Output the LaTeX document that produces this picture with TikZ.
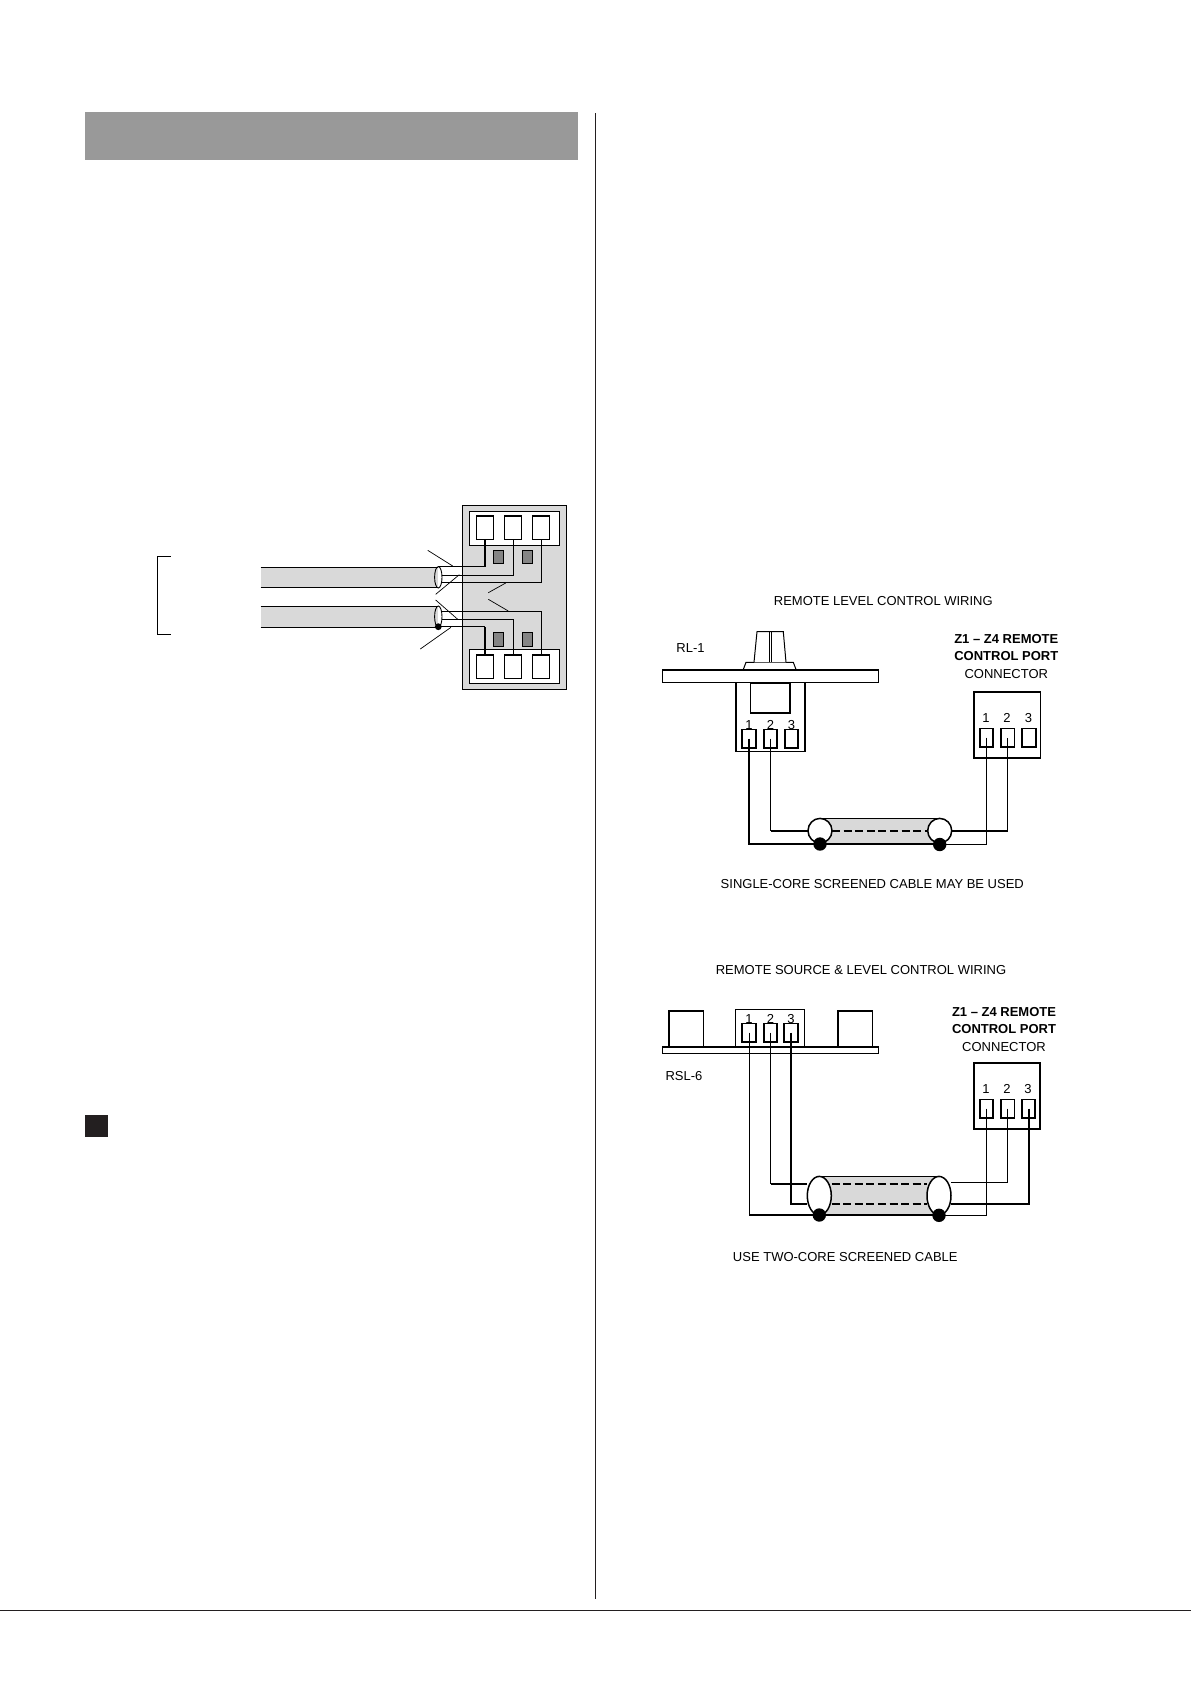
\documentclass[tikz,border=0pt]{standalone}
\usepackage{fontspec}
\setmainfont{Liberation Sans}
\usetikzlibrary{positioning,shapes.geometric}
\definecolor{bandgrey}{HTML}{999999}
\definecolor{cablegrey}{HTML}{D9D9D9}
\definecolor{studgrey}{HTML}{858585}
\definecolor{inkblack}{HTML}{231F20}

\begin{document}
\begin{tikzpicture}[
x=1pt,y=-1pt,
font=\fontsize{13}{17.3}\selectfont,
wire/.style={line width=1pt},
heavywire/.style={line width=2pt},
lightbox/.style={rectangle,draw,fill=white,inner sep=0pt,outer sep=0pt,line width=1.2pt},
heavybox/.style={lightbox,line width=1.6pt},
bigpin/.style={lightbox,minimum width=17.4pt,minimum height=23.7pt},
smallpin/.style={heavybox,minimum width=13.5pt,minimum height=18.7pt},
stud/.style={lightbox,fill=studgrey,line width=0.8pt,minimum width=10.5pt,minimum height=13.5pt},
pinlabel/.style={inner sep=0pt},
headlabel/.style={inner sep=0pt,align=center},
screen/.style={ellipse,draw,fill=white,inner sep=0pt,outer sep=0pt,line width=1.5pt,minimum width=24pt},
endcap/.style={ellipse,draw,inner sep=0pt,outer sep=0pt,line width=0.9pt,minimum width=7.4pt,minimum height=21.4pt},
drain/.style={circle,fill=black,inner sep=0pt,outer sep=0pt,minimum size=13.4pt},
core/.style={line width=2pt,dash pattern=on 8pt off 3.6pt},
thincore/.style={line width=1.2pt,dash pattern=on 8pt off 3.6pt}
]
    \useasboundingbox (0,0) rectangle (1191,1684);

    % Page furniture
    \fill [bandgrey] (85,112) rectangle (578,160);
    \fill [inkblack] (85,1115) rectangle (108,1137);
    \draw [line width=1.2pt,inkblack] (595.4,113) -- (595.4,1599);
    \draw [line width=1.3pt,inkblack] (0,1610.6) -- (1191,1610.6);

    % Terminal block
    \node [lightbox,fill=cablegrey,minimum width=104.4pt,minimum height=184pt] (block) at (514.5,597.3) {};
    \node [lightbox,minimum width=90.4pt,minimum height=33.6pt] (stripT) at (514.5,528.5) {};
    \node [lightbox,minimum width=90.4pt,minimum height=34pt] (stripB) at (514.5,666.3) {};
    \foreach \x/\n in {485/a,513/b,541/c} {
        \node [bigpin] (top\n) at (\x,527.9) {};
        \node [bigpin] (bot\n) at (\x,666.9) {};
    }
    \foreach \x/\n in {498.4/a,527.5/b} {
        \node [stud] (studT\n) at (\x,557) {};
        \node [stud] (studB\n) at (\x,639.3) {};
    }

    % Two cables
    \fill [cablegrey] (260.7,567.3) rectangle (438.3,587.3);
    \fill [cablegrey] (260.7,606.5) rectangle (438.3,627.3);
    \draw [line width=1.2pt] (260.7,567.3) -- (438.3,567.3);
    \draw [line width=1.2pt] (260.7,587.3) -- (438.3,587.3);
    \draw [line width=1.2pt] (260.7,606.5) -- (438.3,606.5);
    \draw [line width=1.2pt] (260.7,627.3) -- (438.3,627.3);
    \node [endcap] (capU) at (438.3,577.3) {};
    \node [endcap] (capD) at (438.3,616.7) {};
    \node [drain,minimum size=6.8pt] (dotD) at (438.3,626.7) {};
    \draw
        (442,575) coordinate (coreUb)
        (442,582) coordinate (coreUc)
        (442,611.5) coordinate (coreDc)
        (442,619.2) coordinate (coreDb);

    \draw [heavywire] (topa.south) -- (topa.south |- capU.north);
    \draw [line width=1.2pt] (topa.south |- capU.north) -- (capU.north);
    \draw [wire] (topb.south) |- (coreUb);
    \draw [wire] (topc.south) |- (coreUc);
    \draw [wire] (botc.north) |- (coreDc);
    \draw [wire] (botb.north) |- (coreDb);
    \draw [heavywire] (bota.north) -- (bota.north |- dotD.center);
    \draw [line width=1.2pt] (bota.north |- dotD.center) -- (dotD.center);

    % Leader lines and bracket
    \draw [line width=0.7pt] (427.7,550.3) -- (452.7,566);
    \draw [line width=0.7pt] (435.7,594.3) -- (459.3,574.7);
    \draw [line width=0.7pt] (488.3,592.7) -- (505.7,583);
    \draw [line width=0.7pt] (488.3,599.3) -- (508.3,611);
    \draw [line width=0.7pt] (435.7,600) -- (457.7,619.3);
    \draw [line width=0.7pt] (420.3,649) -- (451,627.3);
    \draw [line width=1pt] (170.7,556.3) -- (157.3,556.3) -- (157.3,634.3) -- (170.7,634.3);

    % Remote level control wiring
    \node [pinlabel] (titleRL) at (883.3,600.6) {REMOTE LEVEL CONTROL WIRING};
    \node [pinlabel] (nameRL) at (690.5,648.3) {RL-1};
    \draw [line width=1pt,fill=white] (743.3,669.5) -- (746,662.3) -- (793.3,662.3) -- (796,669.5);
    \draw [line width=1pt,fill=white] (754,662.3) -- (757,631.7) -- (783.3,631.7) -- (786,662.3);
    \draw [line width=0.8pt] (769.3,631.7) -- (769.3,662.3);
    \draw [line width=0.8pt] (771.6,631.7) -- (771.6,662.3);
    \node [heavybox,minimum width=69.3pt,minimum height=69pt] (bodyRL) at (770.6,716.8) {};
    \node [heavybox,minimum width=216pt,minimum height=12.6pt] (panelRL) at (770.3,676) {};
    \node [heavybox,minimum width=39.7pt,minimum height=29.7pt] (potRL) at (770.2,698.2) {};
    \foreach \x/\n/\t in {749/a/1,770.5/b/2,791.5/c/3} {
        \node [smallpin] (pinRL\n) at (\x,738.7) {};
        \node [pinlabel] (numRL\n) at (\x,725) {\t};
    }
    \node [heavybox,minimum width=66.6pt,minimum height=66.3pt] (portRL) at (1007,724.9) {};
    \foreach \x/\n/\t in {986.5/a/1,1007.7/b/2,1029/c/3} {
        \node [smallpin] (pRL\n) at (\x,737.7) {};
        \node [pinlabel] (nRL\n) at (\x-0.6,718) {\t};
    }
    \node [headlabel] (headRL) at (1006.3,656.3) {\textbf{Z1 – Z4 REMOTE}\\\textbf{CONTROL PORT}\\CONNECTOR};

    \fill [cablegrey] (820,818.7) rectangle (939.7,844);
    \node [screen,minimum height=24.6pt] (capLA) at (820,830.7) {};
    \node [screen,minimum height=24.6pt] (capLB) at (939.7,830.7) {};
    \draw [line width=1.7pt] (capLA.north) -- (capLB.north);
    \draw [line width=1.7pt] (820,844) -- (939.7,844);
    \node [drain] (dotLA) at (820,844) {};
    \node [drain] (dotLB) at (939.7,844.5) {};
    \draw [core] (capLA.east) -- (capLB.west);
    \draw [heavywire] (pinRLa.center) |- (dotLA.center);
    \draw [wire] (pinRLb.center) -- (pinRLb.center |- capLA.west);
    \draw [heavywire] (pinRLb.center |- capLA.west) -- (capLA.west);
    \draw [wire] (pRLa.center) |- (dotLB.center);
    \draw [heavywire] (capLB.east) -- (capLB.east -| pRLb.center);
    \draw [wire] (capLB.east -| pRLb.center) -- (pRLb.center);
    \node [pinlabel] (noteRL) at (872.3,883.8) {SINGLE-CORE SCREENED CABLE MAY BE USED};

    % Remote source and level control wiring
    \node [pinlabel] (titleRS) at (861,969.6) {REMOTE SOURCE \& LEVEL CONTROL WIRING};
    \node [pinlabel] (nameRS) at (684,1076) {RSL-6};
    \node [heavybox,minimum width=34.6pt,minimum height=36pt] (keyA) at (686,1028.7) {};
    \node [heavybox,minimum width=34.6pt,minimum height=36pt] (keyB) at (855,1028.7) {};
    \node [lightbox,minimum width=69.4pt,minimum height=37.4pt] (bodyRS) at (770,1028) {};
    \node [heavybox,minimum width=216pt,minimum height=6.6pt] (panelRS) at (770.3,1050) {};
    \foreach \x/\n/\t in {749/a/1,770.5/b/2,791/c/3} {
        \node [smallpin] (pinRS\n) at (\x,1032.7) {};
        \node [pinlabel] (numRS\n) at (\x,1019.3) {\t};
    }
    \node [heavybox,minimum width=66.3pt,minimum height=66.3pt] (portRS) at (1006.9,1095.9) {};
    \foreach \x/\n/\t in {986.5/a/1,1007.7/b/2,1028.5/c/3} {
        \node [smallpin] (pRS\n) at (\x,1108.7) {};
        \node [pinlabel] (nRS\n) at (\x-0.6,1089.3) {\t};
    }
    \node [headlabel] (headRS) at (1004,1029.3) {\textbf{Z1 – Z4 REMOTE}\\\textbf{CONTROL PORT}\\CONNECTOR};

    \fill [cablegrey] (819.3,1176) rectangle (939,1215);
    \node [screen,fill=white,minimum height=38.6pt] (capSA) at (819.3,1195.7) {};
    \node [screen,fill=white,minimum height=38.6pt] (capSB) at (939,1195.7) {};
    \draw [line width=1.2pt] (capSA.north) -- (capSB.north);
    \draw [line width=1.7pt] (819.3,1215) -- (939,1215);
    \node [drain] (dotSA) at (819.3,1215) {};
    \node [drain] (dotSB) at (939,1215.3) {};
    \draw
        (capSA.west |- 0,1184) coordinate (inB)
        (capSA.west |- 0,1204) coordinate (inC)
        (capSB.east |- 0,1182.3) coordinate (outB)
        (capSB.east |- 0,1204) coordinate (outC);
    \draw [core] (831.5,1184) -- (927,1184);
    \draw [thincore] (831.5,1204) -- (927,1204);
    \draw [wire] (pinRSa.center) -- (pinRSa.center |- dotSA.center);
    \draw [heavywire] (pinRSa.center |- dotSA.center) -- (dotSA.center);
    \draw [wire] (pinRSb.center) -- (pinRSb.center |- inB);
    \draw [heavywire] (pinRSb.center |- inB) -- (inB);
    \draw [heavywire] (pinRSc.center) |- (inC);
    \draw [wire] (pRSa.center) |- (dotSB.center);
    \draw [wire] (pRSb.center) |- (outB);
    \draw [heavywire] (pRSc.center) |- (outC);
    \node [pinlabel] (noteRS) at (845.3,1257) {USE TWO-CORE SCREENED CABLE};
\end{tikzpicture}
\end{document}
